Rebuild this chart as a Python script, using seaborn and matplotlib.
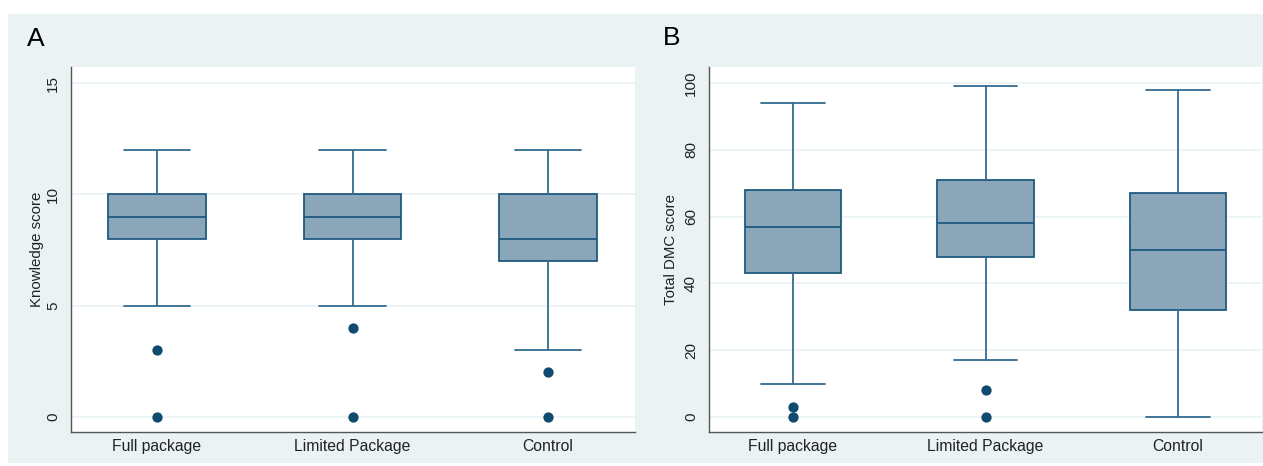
import numpy as np
import pandas as pd
import matplotlib
matplotlib.use("Agg")
import matplotlib.pyplot as plt
import seaborn as sns
from matplotlib.patches import Rectangle

# ---------------- data ----------------
groups = ["Full package", "Limited Package", "Control"]

# Panel A: Knowledge score
know_whislo = [5, 5, 3]
know_q1 = [8, 8, 7]
know_med = [9, 9, 8]
know_q3 = [10, 10, 10]
know_whishi = [12, 12, 12]
know_out_group = ["Full package", "Full package", "Limited Package",
                  "Limited Package", "Control", "Control"]
know_out_val = [3, 0, 4, 0, 2, 0]
know_ticks = [0, 5, 10, 15]

# Panel B: Total DMC score
dmc_whislo = [10, 17, 0]
dmc_q1 = [43, 48, 32]
dmc_med = [57, 58, 50]
dmc_q3 = [68, 71, 67]
dmc_whishi = [94, 99, 98]
dmc_out_group = ["Full package", "Full package", "Limited Package", "Limited Package"]
dmc_out_val = [3, 0, 8, 0]
dmc_ticks = [0, 20, 40, 60, 80, 100]

# ---------------- style ----------------
sns.set_style("white")
plt.rcParams["font.family"] = ["Liberation Sans", "DejaVu Sans"]

BG = "#EAF2F3"
FILL = "#8BA6B9"
EDGE = "#1F5A80"
LINE = "#336C90"
DOT = "#0F4A70"
AXC = "#555555"

W, H = 1263, 466
fig = plt.figure(figsize=(W / 100, H / 100), dpi=100)
fig.patch.set_facecolor("white")
fig.patches.append(Rectangle((8 / W, 3 / H), (W - 8) / W, (463 - 14) / H,
                             transform=fig.transFigure, facecolor=BG,
                             edgecolor="none", zorder=-10))

axA = fig.add_axes([71 / W, 34 / H, (635 - 71) / W, (432 - 67) / H])
axB = fig.add_axes([709 / W, 34 / H, (1262 - 709) / W, (432 - 67) / H])


def draw(ax, lo, q1, med, q3, hi, og, ov, ticks, ylim, xlim, capw, ylabel, labelpad):
    stats = []
    for i in range(len(groups)):
        stats.append(dict(whislo=lo[i], q1=q1[i], med=med[i], q3=q3[i],
                          whishi=hi[i], fliers=[], label=groups[i]))
    ax.bxp(stats, positions=[0, 1, 2], widths=0.5, patch_artist=True,
           showfliers=False, capwidths=[capw] * 3,
           boxprops=dict(facecolor=FILL, edgecolor=EDGE, linewidth=1.3),
           whiskerprops=dict(color=LINE, linewidth=1.3),
           capprops=dict(color=LINE, linewidth=1.3),
           medianprops=dict(color=EDGE, linewidth=1.3))
    df = pd.DataFrame({"group": og, "value": ov})
    sns.stripplot(data=df, x="group", y="value", order=groups, jitter=False,
                  color=DOT, size=7.4, linewidth=0, ax=ax, zorder=4)
    ax.set_xlim(*xlim)
    ax.set_ylim(*ylim)
    ax.set_xticks([0, 1, 2])
    ax.set_xticklabels(groups, fontsize=11.3, color="#222222")
    ax.set_yticks(ticks)
    ax.set_yticklabels([str(t) for t in ticks], fontsize=11, color="#222222")
    ax.tick_params(axis="y", direction="out", length=6, width=1, color=AXC,
                   labelrotation=90, pad=2)
    for lab in ax.get_yticklabels():
        lab.set_va("center")
    ax.tick_params(axis="x", length=0, pad=5)
    ax.set_xlabel("")
    ax.set_ylabel(ylabel, fontsize=10.8, color="#222222", labelpad=labelpad)
    ax.yaxis.grid(True, color=BG, linewidth=1.2)
    ax.xaxis.grid(False)
    ax.set_axisbelow(True)
    for s in ["top", "right"]:
        ax.spines[s].set_visible(False)
    for s in ["left", "bottom"]:
        ax.spines[s].set_color(AXC)
        ax.spines[s].set_linewidth(1.0)
    ax.set_facecolor("white")


draw(axA, know_whislo, know_q1, know_med, know_q3, know_whishi,
     know_out_group, know_out_val, know_ticks, (-0.68, 15.72), (-0.44, 2.445),
     0.34, "Knowledge score", 1)
draw(axB, dmc_whislo, dmc_q1, dmc_med, dmc_q3, dmc_whishi,
     dmc_out_group, dmc_out_val, dmc_ticks, (-4.5, 104.8), (-0.436, 2.436),
     0.33, "Total DMC score", 4)

fig.text(27 / W, 1 - 46 / H, "A", fontsize=19, color="black", va="baseline")
fig.text(663 / W, 1 - 45 / H, "B", fontsize=19, color="black", va="baseline")

fig.savefig("out.png", dpi=100, facecolor="white")
